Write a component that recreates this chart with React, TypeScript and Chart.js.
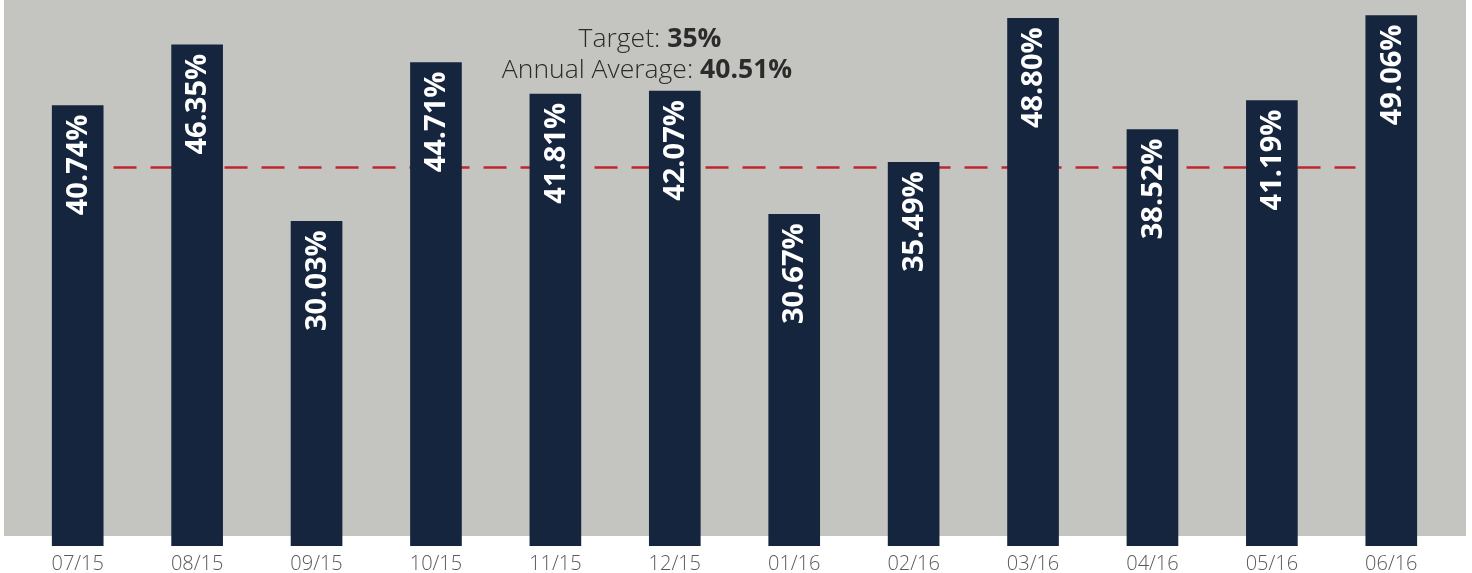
import React, { useEffect, useRef } from "react";
import { Chart, registerables } from "chart.js";

Chart.register(...registerables);

const categories = ["07/15", "08/15", "09/15", "10/15", "11/15", "12/15", "01/16", "02/16", "03/16", "04/16", "05/16", "06/16"];
const values = [40.74, 46.35, 30.03, 44.71, 41.81, 42.07, 30.67, 35.49, 48.8, 38.52, 41.19, 49.06];
const TARGET = 35;
const ANNUAL_AVERAGE = 40.51;
const Y_MAX = 50.5;

const BAR_COLOR = "#15253E";
const BG_COLOR = "#C4C5C0";
const LINE_COLOR = "#C0272D";
const TEXT_DARK = "#2B2B2B";
const TICK_COLOR = "#5A5A5A";
const LIGHT_FONT = "'Open Sans', 'Noto Sans', sans-serif";
const BOLD_FONT = "'Open Sans', 'Noto Sans', sans-serif";

const backgroundPlugin = {
  id: "panelBackground",
  beforeDraw(chart: any) {
    const { ctx, chartArea } = chart;
    ctx.save();
    ctx.fillStyle = BG_COLOR;
    ctx.fillRect(chartArea.left - 14, 0, chartArea.right - chartArea.left + 29, chartArea.bottom - 10);
    ctx.restore();
  },
};

const targetLinePlugin = {
  id: "targetLine",
  beforeDatasetsDraw(chart: any) {
    const { ctx } = chart;
    const x = chart.scales.x;
    const y = chart.scales.y;
    const step = x.getPixelForValue(1) - x.getPixelForValue(0);
    const x0 = x.getPixelForValue(0) + step * 0.3;
    const x1 = x.getPixelForValue(categories.length - 1) - step * 0.3;
    const yy = y.getPixelForValue(TARGET);
    ctx.save();
    ctx.strokeStyle = LINE_COLOR;
    ctx.lineWidth = 2.5;
    ctx.setLineDash([23, 14]);
    ctx.beginPath();
    ctx.moveTo(x0, yy);
    ctx.lineTo(x1, yy);
    ctx.stroke();
    ctx.restore();
  },
};

const barLabelPlugin = {
  id: "barLabels",
  afterDatasetsDraw(chart: any) {
    const { ctx } = chart;
    const meta = chart.getDatasetMeta(0);
    ctx.save();
    ctx.fillStyle = "#FFFFFF";
    ctx.font = `bold 29px ${BOLD_FONT}`;
    ctx.textAlign = "right";
    ctx.textBaseline = "middle";
    meta.data.forEach((bar: any, i: number) => {
      ctx.save();
      ctx.translate(bar.x + 1, bar.y + 9);
      ctx.rotate(-Math.PI / 2);
      ctx.fillText(values[i].toFixed(2) + "%", 0, 0);
      ctx.restore();
    });
    ctx.restore();
  },
};

function drawMixed(ctx: any, cx: number, cy: number, light: string, bold: string, size: number) {
  ctx.font = `300 ${size}px ${LIGHT_FONT}`;
  const w1 = ctx.measureText(light).width;
  ctx.font = `bold ${size}px ${BOLD_FONT}`;
  const w2 = ctx.measureText(bold).width;
  const start = cx - (w1 + w2) / 2;
  ctx.textAlign = "left";
  ctx.textBaseline = "alphabetic";
  ctx.fillStyle = TEXT_DARK;
  ctx.font = `300 ${size}px ${LIGHT_FONT}`;
  ctx.fillText(light, start, cy);
  ctx.font = `bold ${size}px ${BOLD_FONT}`;
  ctx.fillText(bold, start + w1, cy);
}

const headerPlugin = {
  id: "headerText",
  afterDraw(chart: any) {
    const { ctx } = chart;
    ctx.save();
    drawMixed(ctx, 650, 47, "Target: ", TARGET + "%", 26.5);
    drawMixed(ctx, 647, 78, "Annual Average: ", ANNUAL_AVERAGE.toFixed(2) + "%", 26.5);
    ctx.restore();
  },
};

export default function App() {
  const canvasRef = useRef<HTMLCanvasElement | null>(null);

  useEffect(() => {
    document.body.style.margin = "0";
    const canvas = canvasRef.current;
    if (!canvas) return;
    const chart = new Chart(canvas, {
      type: "bar",
      data: {
        labels: categories,
        datasets: [
          {
            data: values,
            backgroundColor: BAR_COLOR,
            borderWidth: 0,
            barThickness: 51,
          },
        ],
      },
      options: {
        responsive: false,
        animation: false,
        devicePixelRatio: 1,
        layout: { padding: { left: 18, right: 21, top: 0, bottom: 0 } },
        plugins: {
          legend: { display: false },
          tooltip: { enabled: false },
          title: { display: false },
        },
        scales: {
          x: {
            grid: { display: false, drawTicks: false },
            border: { display: false },
            afterFit(scale: any) {
              scale.height = 27;
            },
            ticks: {
              color: TICK_COLOR,
              font: { family: LIGHT_FONT, size: 20, weight: "300" as any },
              padding: 6,
              maxRotation: 0,
              autoSkip: false,
            },
          },
          y: {
            display: false,
            min: 0,
            max: Y_MAX,
          },
        },
      },
      plugins: [backgroundPlugin, targetLinePlugin, barLabelPlugin, headerPlugin],
    });
    return () => chart.destroy();
  }, []);

  return (
    <div style={{ width: 1472, height: 573 }}>
      <canvas ref={canvasRef} width={1472} height={573} style={{ display: "block", width: 1472, height: 573 }} />
    </div>
  );
}
